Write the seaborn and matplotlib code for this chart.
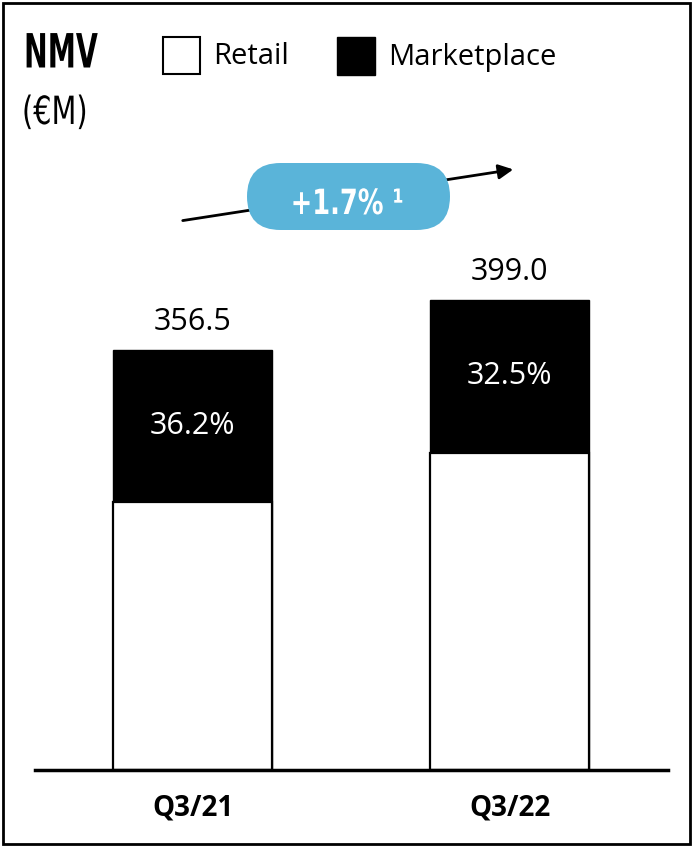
import matplotlib
matplotlib.use("Agg")
import matplotlib.pyplot as plt
import seaborn as sns
import pandas as pd
from matplotlib.patches import Rectangle, FancyBboxPatch, FancyArrowPatch
from matplotlib.patheffects import AbstractPathEffect
from matplotlib.transforms import Affine2D

# NMV by quarter (EUR millions) and marketplace share of NMV (%)
quarters = ["Q3/21", "Q3/22"]
nmv_total = [356.5, 399.0]
marketplace_share = [36.2, 32.5]
growth_text = "+1.7% ¹"
legend_labels = ["Retail", "Marketplace"]

retail = [t * (1 - s / 100) for t, s in zip(nmv_total, marketplace_share)]
df = pd.DataFrame({"quarter": quarters, "total": nmv_total, "retail": retail})

sns.set_theme(style="white")
plt.rcParams["font.family"] = ["Open Sans", "DejaVu Sans"]
COND = ["DejaVu Sans"]


class Condense(AbstractPathEffect):
    """Squeeze glyph outlines horizontally to mimic a condensed face."""

    def __init__(self, sx=0.7, anchor="center"):
        super().__init__()
        self.sx = sx
        self.anchor = anchor

    def draw_path(self, renderer, gc, tpath, affine, rgbFace=None):
        v = tpath.vertices
        if len(v):
            x0, x1 = v[:, 0].min(), v[:, 0].max()
            cx = x0 if self.anchor == "left" else 0.5 * (x0 + x1)
        else:
            cx = 0.0
        squeeze = Affine2D().translate(-cx, 0).scale(self.sx, 1).translate(cx, 0)
        renderer.draw_path(gc, tpath, squeeze + affine, rgbFace)


W, H = 693, 846
fig = plt.figure(figsize=(W / 100, H / 100), dpi=100)
fig.patch.set_facecolor("white")


def fx(x):
    return x / W


def fy(y):
    return 1 - y / H


def inch(x, y):
    return (x / 100, (H - y) / 100)


ax = fig.add_axes([fx(35), fy(770), fx(668) - fx(35), fy(100) - fy(770)])
sns.barplot(data=df, x="quarter", y="total", color="black", width=0.5,
            edgecolor="black", linewidth=1, saturation=1, ax=ax)
sns.barplot(data=df, x="quarter", y="retail", color="white", width=0.5,
            edgecolor="black", linewidth=1.6, saturation=1, ax=ax)

ax.set_xlim(-0.497, 1.5)
ax.set_ylim(0, 568.8)
ax.set_xlabel("")
ax.set_ylabel("")
ax.set_yticks([])
for side in ["left", "right", "top"]:
    ax.spines[side].set_visible(False)
ax.spines["bottom"].set_linewidth(2.5)
ax.spines["bottom"].set_color("black")
ax.tick_params(axis="x", length=0, pad=17, labelsize=20)
for lbl in ax.get_xticklabels():
    lbl.set_fontweight("bold")
    lbl.set_color("black")
ax.patch.set_alpha(0)

for i, (tot, ret, share) in enumerate(zip(nmv_total, retail, marketplace_share)):
    ax.annotate(f"{tot:.1f}", xy=(i, tot), xytext=(0, 20), textcoords="offset points",
                ha="center", va="center", fontsize=22, color="black")
    ax.text(i, ret + (tot - ret) / 2, f"{share:.1f}%", ha="center", va="center",
            fontsize=22, color="white")

# Outer frame
fig.add_artist(Rectangle(inch(2.5, 843.5), 6.875, 8.41, transform=fig.dpi_scale_trans,
                         fill=False, edgecolor="black", linewidth=2, zorder=5))

# Title
fig.text(fx(24), fy(55), "NMV", fontsize=34, fontweight="bold", family=COND,
         ha="left", va="center", color="black",
         path_effects=[Condense(0.6, anchor="left")])
fig.text(fx(22), fy(113), "(€M)", fontsize=28, fontweight="normal", family=COND,
         ha="left", va="center", color="black",
         path_effects=[Condense(0.74, anchor="left")])

# Legend
fig.add_artist(Rectangle(inch(163, 74), 0.37, 0.37, transform=fig.dpi_scale_trans,
                         facecolor="white", edgecolor="black", linewidth=1.5))
fig.text(fx(213), fy(57), legend_labels[0], fontsize=21, ha="left", va="center", color="black")
fig.add_artist(Rectangle(inch(337, 75), 0.38, 0.38, transform=fig.dpi_scale_trans,
                         facecolor="black", edgecolor="black", linewidth=1))
fig.text(fx(388), fy(57), legend_labels[1], fontsize=21, ha="left", va="center", color="black")

# Growth arrow with badge
fig.add_artist(FancyArrowPatch(inch(180, 221), inch(516, 169), transform=fig.dpi_scale_trans,
                               arrowstyle="-|>", mutation_scale=22, linewidth=2,
                               color="black", zorder=2))
fig.add_artist(FancyBboxPatch(inch(247, 230), 2.03, 0.67, transform=fig.dpi_scale_trans,
                              boxstyle="round,pad=0,rounding_size=0.335",
                              facecolor="#5AB4D9", edgecolor="none", zorder=3))
fig.text(fx(347.5), fy(204), growth_text, fontsize=25, fontweight="bold", family=COND,
         ha="center", va="center", color="white", zorder=4,
         path_effects=[Condense(0.74)])

fig.savefig("out.png", dpi=100, facecolor="white")
